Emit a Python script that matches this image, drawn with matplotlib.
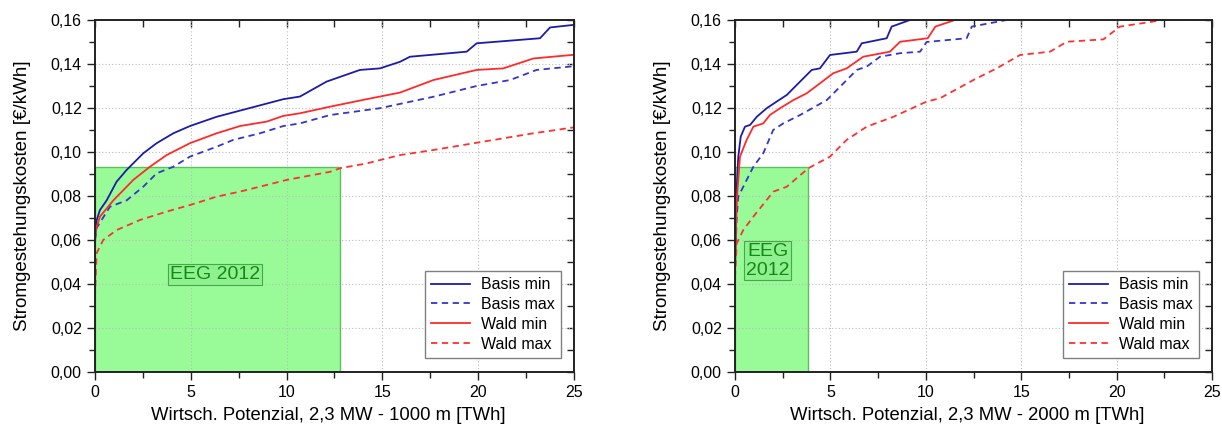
import matplotlib
matplotlib.use("Agg")
import matplotlib.pyplot as plt
from matplotlib.patches import Rectangle
from matplotlib.ticker import MultipleLocator, FuncFormatter

plt.rcParams['font.family'] = ['Liberation Sans', 'DejaVu Sans']

# --- 1000 m hub height -------------------------------------------------
x1_basis_min = [0.0, 0.09, 0.26, 0.61, 1.13, 1.65, 2.52, 3.22, 4.09, 4.96, 6.35, 8.09, 9.83,
                10.7, 12.09, 13.83, 14.87, 15.92, 16.44, 19.40, 19.92, 23.23, 23.75, 25.0]
y1_basis_min = [0.060, 0.069, 0.0736, 0.078, 0.0865, 0.0918, 0.0994, 0.104, 0.1085, 0.1118, 0.116,
                0.120, 0.124, 0.1252, 0.132, 0.1373, 0.138, 0.141, 0.1433, 0.1456, 0.1494, 0.1517,
                0.1566, 0.1578]

x1_basis_max = [0.0, 0.09, 0.78, 1.65, 2.52, 3.22, 4.09, 4.96, 6.35, 7.22, 8.61, 9.83, 10.7,
                12.27, 14.87, 17.66, 19.92, 21.66, 23.05, 25.0]
y1_basis_max = [0.060, 0.0655, 0.0751, 0.078, 0.0842, 0.0903, 0.0933, 0.0979, 0.1024, 0.1055,
                0.1085, 0.1118, 0.113, 0.1168, 0.1199, 0.1251, 0.130, 0.1327, 0.1373, 0.1390]

x1_wald_min = [0.0, 0.04, 0.26, 0.96, 2.0, 2.87, 3.74, 4.96, 6.35, 7.57, 8.96, 9.83, 10.7,
               12.27, 14.18, 15.92, 17.66, 19.92, 21.31, 22.88, 25.0]
y1_wald_min = [0.058, 0.0645, 0.0706, 0.078, 0.0873, 0.0933, 0.0986, 0.104, 0.1085, 0.1118, 0.1138,
               0.1164, 0.1176, 0.1206, 0.124, 0.127, 0.1327, 0.1373, 0.138, 0.1425, 0.1442]

x1_wald_max = [0.0, 0.09, 0.43, 1.13, 2.35, 3.74, 4.96, 6.35, 7.57, 8.96, 10.0, 12.27, 12.79,
               14.18, 15.92, 17.66, 19.92, 22.88, 25.0]
y1_wald_max = [0.034, 0.054, 0.060, 0.0645, 0.0691, 0.0729, 0.0759, 0.0797, 0.082, 0.085, 0.0873,
               0.091, 0.0926, 0.0948, 0.0986, 0.1009, 0.1042, 0.1085, 0.1112]

# --- 2000 m hub height -------------------------------------------------
x2_basis_min = [0.0, 0.09, 0.17, 0.30, 0.52, 0.79, 1.14, 1.66, 2.18, 2.71, 3.41, 4.02, 4.45,
                4.98, 6.38, 6.64, 7.95, 8.21, 9.17]
y2_basis_min = [0.046, 0.0842, 0.0979, 0.107, 0.1115, 0.1123, 0.116, 0.1199, 0.1229, 0.1259,
                0.132, 0.1373, 0.138, 0.1441, 0.1456, 0.1494, 0.1517, 0.157, 0.160]

x2_basis_max = [0.0, 0.09, 0.17, 0.96, 1.48, 2.0, 2.53, 3.41, 4.81, 6.38, 6.9, 7.6, 8.65, 9.70,
                10.04, 12.14, 12.41, 14.24]
y2_basis_max = [0.048, 0.0706, 0.0797, 0.0933, 0.0994, 0.110, 0.113, 0.1168, 0.1236, 0.1373,
                0.1388, 0.1433, 0.1449, 0.1456, 0.150, 0.1517, 0.157, 0.160]

x2_wald_min = [0.0, 0.09, 0.26, 0.61, 0.96, 1.48, 1.83, 2.36, 3.06, 3.76, 4.45, 5.15, 5.85,
               6.72, 8.12, 8.65, 10.10, 10.50, 11.53]
y2_wald_min = [0.050, 0.078, 0.0979, 0.1055, 0.1115, 0.113, 0.1168, 0.1199, 0.1236, 0.1267,
               0.1312, 0.1358, 0.138, 0.1433, 0.1456, 0.1501, 0.1517, 0.157, 0.160]

x2_wald_max = [0.0, 0.09, 0.43, 0.96, 2.01, 2.71, 3.84, 4.98, 5.85, 6.90, 8.30, 10.04, 10.74,
               12.49, 13.71, 14.94, 16.51, 17.39, 19.31, 20.18, 22.45]
y2_wald_max = [0.043, 0.0585, 0.0645, 0.0706, 0.082, 0.0842, 0.0926, 0.0979, 0.1055, 0.1115,
               0.116, 0.1229, 0.1244, 0.1327, 0.138, 0.1441, 0.1456, 0.1501, 0.1512, 0.157, 0.160]

eeg_tariff = 0.093          # EEG 2012 Verguetung [EUR/kWh]
eeg_potential = [12.79, 3.84]  # wirtschaftliches Potenzial bis zur Verguetung [TWh]
eeg_labels = ["EEG 2012", "EEG\n2012"]
eeg_label_pos = [(6.26, 0.0445), (1.71, 0.0505)]

series_labels = ["Basis min", "Basis max", "Wald min", "Wald max"]
xlabels = ["Wirtsch. Potenzial, 2,3 MW - 1000 m [TWh]",
           "Wirtsch. Potenzial, 2,3 MW - 2000 m [TWh]"]

data = [
    [(x1_basis_min, y1_basis_min), (x1_basis_max, y1_basis_max),
     (x1_wald_min, y1_wald_min), (x1_wald_max, y1_wald_max)],
    [(x2_basis_min, y2_basis_min), (x2_basis_max, y2_basis_max),
     (x2_wald_min, y2_wald_min), (x2_wald_max, y2_wald_max)],
]
styles = [("#1c1ca8", "-"), ("#3535cc", (0, (3.5, 2.5))),
          ("#ff2a2a", "-"), ("#ff3030", (0, (3.5, 2.5)))]

comma = FuncFormatter(lambda v, pos: f"{v:.2f}".replace(".", ","))

fig = plt.figure(figsize=(12.22, 4.29), dpi=100)
axes = [fig.add_axes([0.0777, 0.1329, 0.392, 0.8205]),
        fig.add_axes([0.6015, 0.1329, 0.3903, 0.8205])]

for i, ax in enumerate(axes):
    ax.set_xlim(0, 25)
    ax.set_ylim(0, 0.16)
    ax.set_axisbelow('line')

    # green area: potential below the EEG tariff
    ax.add_patch(Rectangle((0, 0), eeg_potential[i], eeg_tariff, facecolor="#98fb98",
                           edgecolor="#5fbf5f", linewidth=1.0, zorder=1))
    ax.text(eeg_label_pos[i][0], eeg_label_pos[i][1], eeg_labels[i], fontsize=14,
            color="#138a13", ha="center", va="center", linespacing=1.1,
            bbox=dict(boxstyle="square,pad=0.1", facecolor="#8ff08f",
                      edgecolor="#48a848", linewidth=0.8), zorder=3)

    for (xs, ys), (c, ls), lab in zip(data[i], styles, series_labels):
        ax.plot(xs, ys, color=c, linestyle=ls, linewidth=1.3, label=lab, zorder=2)

    ax.xaxis.set_major_locator(MultipleLocator(5))
    ax.xaxis.set_minor_locator(MultipleLocator(2.5))
    ax.yaxis.set_major_locator(MultipleLocator(0.02))
    ax.yaxis.set_minor_locator(MultipleLocator(0.01))
    ax.yaxis.set_major_formatter(comma)
    ax.tick_params(which="both", direction="out", labelsize=11.5, width=1.0, color="#222222")
    ax.tick_params(which="major", length=6)
    ax.tick_params(which="minor", length=4)
    ax.grid(True, which="major", linestyle=(0, (1, 2)), color="#bbbbbb", linewidth=0.8)

    # mirrored ticks on top and right, pointing inward
    top = ax.secondary_xaxis("top")
    right = ax.secondary_yaxis("right")
    top.xaxis.set_major_locator(MultipleLocator(5))
    top.xaxis.set_minor_locator(MultipleLocator(2.5))
    right.yaxis.set_major_locator(MultipleLocator(0.02))
    right.yaxis.set_minor_locator(MultipleLocator(0.01))
    for sec in (top, right):
        sec.tick_params(which="both", direction="in", length=5, width=1.0,
                        color="#222222", labeltop=False, labelright=False)
        for sp in sec.spines.values():
            sp.set_visible(False)

    for sp in ax.spines.values():
        sp.set_linewidth(1.4)
        sp.set_color("#222222")

    ax.set_xlabel(xlabels[i], fontsize=13.3)
    ax.set_ylabel("Stromgestehungskosten [€/kWh]", fontsize=13.5)
    ax.xaxis.set_label_coords(0.487, -0.1)
    ax.yaxis.set_label_coords(-0.134, 0.5)

    leg = ax.legend(loc="lower right", bbox_to_anchor=(0.973, 0.04), fontsize=11.5,
                    fancybox=False, framealpha=1, edgecolor="#808080",
                    handlelength=2.4, handletextpad=0.7, labelspacing=0.3,
                    borderpad=0.4, borderaxespad=0)
    leg.get_frame().set_linewidth(1.0)

fig.savefig("out.png", dpi=100)
